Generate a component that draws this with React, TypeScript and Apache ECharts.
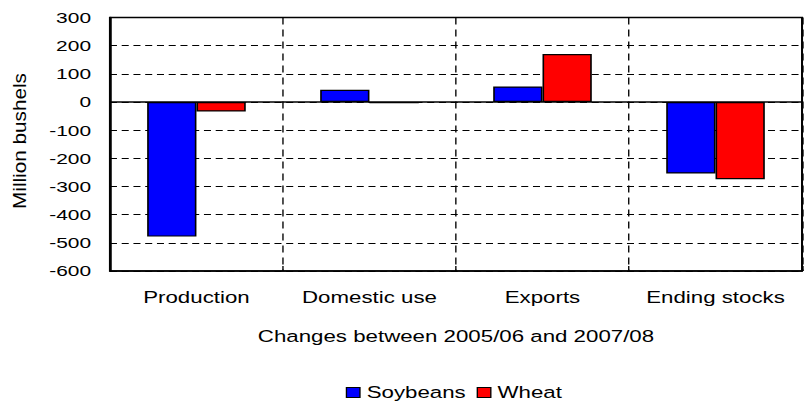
import React, { useEffect, useRef } from "react";
import * as echarts from "echarts";

const categories = ["Production", "Domestic use", "Exports", "Ending stocks"];
const soybeans = [-478, 43, 55, -254];
const wheat = [-34, -5, 170, -274];
const yTicks = { min: -600, max: 300, interval: 100 };
const seriesNames = ["Soybeans", "Wheat"];

const CHART_W = 596;
const CHART_H = 402;
const SX = 805 / CHART_W;
const FONT = "'Liberation Sans', Arial, sans-serif";

export default function App() {
  const ref = useRef<HTMLDivElement>(null);
  useEffect(() => {
    if (!ref.current) return;
    const chart = echarts.init(ref.current, undefined, { renderer: "svg" });
    const barBorder = { borderColor: "#000", borderWidth: 1.2 };
    chart.setOption({
      animation: false,
      textStyle: { fontFamily: FONT, color: "#000" },
      grid: {
        show: true,
        left: 81.4,
        right: 2.2,
        top: 17.4,
        bottom: 131,
        borderColor: "#000",
        borderWidth: 1.5,
        containLabel: false,
      },
      legend: {
        data: seriesNames,
        left: 251,
        top: 379,
        padding: 5,
        itemWidth: 10,
        itemHeight: 10,
        itemGap: 8,
        icon: "rect",
        itemStyle: { borderColor: "#000", borderWidth: 1 },
        textStyle: { fontSize: 16.5, color: "#000", fontFamily: FONT },
      },
      xAxis: {
        type: "category",
        data: categories,
        position: "bottom",
        axisLine: { onZero: false, lineStyle: { color: "#000", width: 1.5 } },
        axisTick: { show: true, inside: true, length: 5, interval: 0, lineStyle: { color: "#000" } },
        splitLine: { show: true, interval: 0, lineStyle: { type: [7, 5], color: "#000", width: 1 } },
        axisLabel: { fontSize: 16.5, color: "#000", margin: 18, interval: 0, fontFamily: FONT },
        name: "Changes between 2005/06 and 2007/08",
        nameLocation: "middle",
        nameGap: 57,
        nameTextStyle: { fontSize: 16.5, color: "#000", fontFamily: FONT },
      },
      yAxis: {
        type: "value",
        min: yTicks.min,
        max: yTicks.max,
        interval: yTicks.interval,
        axisLine: { show: true, lineStyle: { color: "#000", width: 1.5 } },
        axisTick: { show: false },
        axisLabel: { fontSize: 15.5, color: "#000", margin: 14, fontFamily: FONT },
        splitLine: { show: true, lineStyle: { type: [5.2, 3.5], color: "#000", width: 1 } },
      },
      graphic: [
        {
          type: "text",
          x: 14.3,
          y: 141,
          rotation: Math.PI / 2,
          scaleX: 1.22,
          scaleY: 0.8,
          style: {
            text: "Million bushels",
            fontSize: 17,
            fontFamily: FONT,
            fill: "#000",
            align: "center",
            verticalAlign: "middle",
          },
        },
      ],
      series: [
        {
          name: seriesNames[0],
          type: "bar",
          data: soybeans,
          barGap: "0%",
          barCategoryGap: "43%",
          itemStyle: { color: "#0000FF", ...barBorder },
          markLine: {
            silent: true,
            symbol: "none",
            label: { show: false },
            lineStyle: { color: "#000", type: "solid", width: 1.5 },
            data: [{ yAxis: 0 }],
          },
        },
        {
          name: seriesNames[1],
          type: "bar",
          data: wheat,
          barGap: "0%",
          barCategoryGap: "43%",
          itemStyle: { color: "#FF0000", ...barBorder },
        },
      ],
    });
    return () => chart.dispose();
  }, []);
  return (
    <div
      ref={ref}
      style={{
        position: "absolute",
        left: 0,
        top: 0,
        width: CHART_W,
        height: CHART_H,
        transform: `scaleX(${SX})`,
        transformOrigin: "0 0",
        background: "#fff",
      }}
    />
  );
}
